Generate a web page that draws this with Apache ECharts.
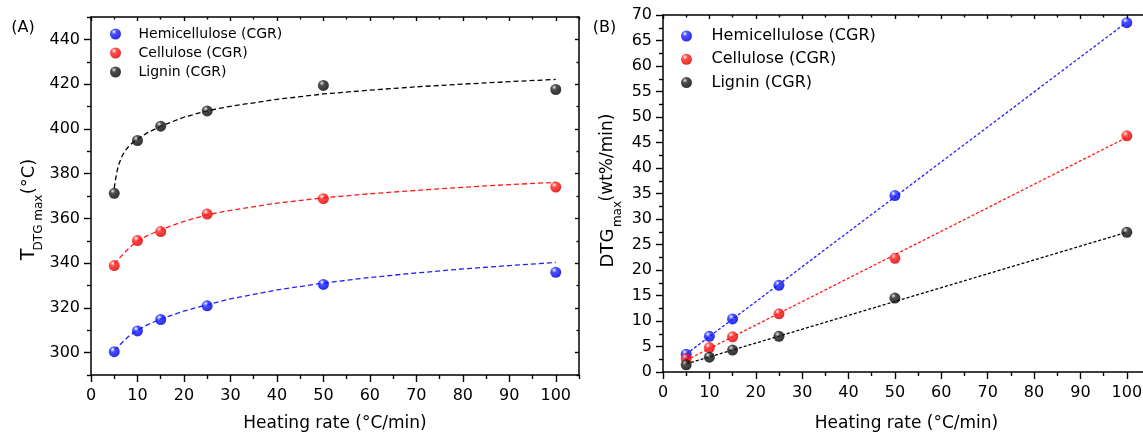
<!DOCTYPE html>
<html>
<head>
<meta charset="utf-8">
<title>Peak temperature and DTG max vs heating rate</title>
<script src="https://cdn.jsdelivr.net/npm/echarts@6/dist/echarts.min.js"></script>
<style>
  html, body { margin: 0; padding: 0; background: #fff; }
  #chart { width: 1143px; height: 436px; }
</style>
</head>
<body>
<div id="chart"></div>
<script>
// Heating rates (°C/min)
const rates = [5, 10, 15, 25, 50, 100];
const seriesNames = ['Hemicellulose (CGR)', 'Cellulose (CGR)', 'Lignin (CGR)'];

// (A) Temperature of maximum DTG (°C)
const tHemi = [300.4, 309.7, 314.8, 320.9, 330.5, 335.9];
const tCell = [338.9, 350.1, 354.1, 361.9, 368.8, 374.0];
const tLig  = [371.2, 394.8, 401.2, 408.0, 419.4, 417.6];

// (A) fitted trend curves, sampled along the heating-rate axis
const fitRatesA = [5, 5.25, 5.5, 5.75, 6, 6.5, 7, 7.5, 8, 9, 10, 12, 15, 20, 25, 30, 40, 50, 60, 70, 80, 90, 100];
const tHemiFit = [301.0, 301.5, 302.0, 302.5, 303.0, 304.1, 305.1, 306.1, 307.1, 308.7, 310.0, 312.3, 315.0,
                  318.6, 321.4, 324.0, 328.0, 331.1, 333.6, 335.6, 337.4, 338.9, 340.3];
const tCellFit = [339.6, 340.2, 340.8, 341.4, 341.9, 343.1, 344.2, 345.3, 346.3, 348.2, 349.8, 352.2, 354.9,
                  358.7, 361.6, 363.6, 366.8, 369.2, 371.0, 372.5, 373.9, 375.1, 376.1];
const tLigFit  = [373.5, 377.0, 380.0, 382.3, 384.2, 387.0, 389.0, 390.6, 391.9, 393.9, 395.4, 398.1, 401.2,
                  405.2, 408.1, 410.1, 413.2, 415.6, 417.3, 418.8, 420.0, 421.1, 422.1];

// (B) Maximum DTG (wt%/min)
const dHemi = [3.5, 7.0, 10.4, 17.0, 34.6, 68.5];
const dCell = [2.6, 4.8, 6.9, 11.4, 22.3, 46.3];
const dLig  = [1.4, 2.9, 4.3, 7.0, 14.5, 27.4];

// (B) linear fits, end points
const fitRatesB = [5, 100];
const dHemiFit = [3.5, 68.6];
const dCellFit = [2.3, 46.0];
const dLigFit  = [1.6, 27.4];

// Tick values
const xTicks  = [0, 10, 20, 30, 40, 50, 60, 70, 80, 90, 100];
const xMinor  = [5, 15, 25, 35, 45, 55, 65, 75, 85, 95, 105];
const yTicksA = [300, 320, 340, 360, 380, 400, 420, 440];
const yMinorA = [290, 310, 330, 350, 370, 390, 410, 430, 450];
const yTicksB = [0, 5, 10, 15, 20, 25, 30, 35, 40, 45, 50, 55, 60, 65, 70];
const yMinorB = [2.5, 7.5, 12.5, 17.5, 22.5, 27.5, 32.5, 37.5, 42.5, 47.5, 52.5, 57.5, 62.5, 67.5];

const FONT = 'DejaVu Sans';
const INK = '#000';

const zip = (xs, ys) => xs.map((x, i) => [x, ys[i]]);

// Glossy sphere fill for the markers
function sphere(hi, mid, base, edge) {
  return {
    type: 'radial', x: 0.36, y: 0.3, r: 0.78,
    colorStops: [
      { offset: 0, color: '#ffffff' },
      { offset: 0.1, color: hi },
      { offset: 0.3, color: mid },
      { offset: 0.75, color: base },
      { offset: 1, color: edge }
    ]
  };
}
const fills = [
  sphere('#a8b0ff', '#1a28ff', '#0000ee', '#0000a8'),
  sphere('#ffb0b0', '#ff2020', '#ee0000', '#a80000'),
  sphere('#9a9a9a', '#202020', '#080808', '#000000')
];
const lineColors = ['#2020ff', '#ff1a1a', '#000000'];

// One value axis; labels and ticks come from explicit value lists
function axis(gridIndex, position, min, max, o) {
  const a = {
    type: 'value', gridIndex, position, min, max,
    splitLine: { show: false },
    axisLine: { show: o.line, onZero: false, lineStyle: { color: INK, width: 1.5 } },
    axisTick: {
      show: true, inside: o.inside, length: o.len, customValues: o.ticks,
      lineStyle: { color: INK, width: 1.4 }
    },
    axisLabel: o.labels ? {
      show: true, customValues: o.labels, color: INK, fontFamily: FONT,
      fontSize: 16, margin: o.margin
    } : { show: false }
  };
  if (o.name) {
    a.name = o.name;
    a.nameLocation = 'middle';
    a.nameGap = o.nameGap;
    a.nameTextStyle = { color: INK, fontFamily: FONT, fontSize: 17 };
  }
  return a;
}

const xAxes = [
  // panel A, main grid
  axis(0, 'bottom', 0, 105, { line: true, inside: false, len: 7, ticks: xTicks, labels: xTicks, margin: 13,
    name: 'Heating rate (°C/min)', nameGap: 40 }),
  axis(0, 'top', 0, 105, { line: true, inside: true, len: 4, ticks: xTicks }),
  // panel A, minor ticks
  axis(1, 'bottom', 0, 105, { line: false, inside: false, len: 4, ticks: xMinor }),
  axis(1, 'top', 0, 105, { line: false, inside: true, len: 2.5, ticks: xMinor }),
  // panel B, main grid
  axis(2, 'bottom', 0, 105, { line: true, inside: false, len: 7, ticks: xTicks, labels: xTicks, margin: 13,
    name: 'Heating rate (°C/min)', nameGap: 43 }),
  axis(2, 'top', 0, 105, { line: true, inside: true, len: 4, ticks: xTicks }),
  // panel B, minor ticks
  axis(3, 'bottom', 0, 105, { line: false, inside: false, len: 4, ticks: xMinor }),
  axis(3, 'top', 0, 105, { line: false, inside: true, len: 2.5, ticks: xMinor })
];

const yAxes = [
  axis(0, 'left', 290, 450, { line: true, inside: false, len: 7, ticks: yTicksA, labels: yTicksA, margin: 11 }),
  axis(0, 'right', 290, 450, { line: true, inside: true, len: 4, ticks: yTicksA }),
  axis(1, 'left', 290, 450, { line: false, inside: false, len: 4, ticks: yMinorA }),
  axis(1, 'right', 290, 450, { line: false, inside: true, len: 2.5, ticks: yMinorA }),
  axis(2, 'left', 0, 70, { line: true, inside: false, len: 7, ticks: yTicksB, labels: yTicksB, margin: 11 }),
  axis(2, 'right', 0, 70, { line: true, inside: true, len: 4, ticks: yTicksB }),
  axis(3, 'left', 0, 70, { line: false, inside: false, len: 4, ticks: yMinorB }),
  axis(3, 'right', 0, 70, { line: false, inside: true, len: 2.5, ticks: yMinorB })
];

function points(name, i, axisIndex, xs, ys) {
  return {
    name, type: 'scatter', xAxisIndex: axisIndex, yAxisIndex: axisIndex,
    symbol: 'circle', symbolSize: 11, z: 5,
    itemStyle: { color: fills[i] },
    data: zip(xs, ys)
  };
}
function fit(name, i, axisIndex, xs, ys, dash) {
  return {
    name, type: 'line', xAxisIndex: axisIndex, yAxisIndex: axisIndex,
    showSymbol: false, symbol: 'none', z: 3, smooth: false,
    lineStyle: { color: lineColors[i], width: 1.3, type: dash },
    data: zip(xs, ys)
  };
}

const series = [
  fit('Hemicellulose fit A', 0, 0, fitRatesA, tHemiFit, [5, 3]),
  fit('Cellulose fit A', 1, 0, fitRatesA, tCellFit, [5, 3]),
  fit('Lignin fit A', 2, 0, fitRatesA, tLigFit, [5, 3]),
  points(seriesNames[0], 0, 0, rates, tHemi),
  points(seriesNames[1], 1, 0, rates, tCell),
  points(seriesNames[2], 2, 0, rates, tLig),
  fit('Hemicellulose fit B', 0, 4, fitRatesB, dHemiFit, [3, 2]),
  fit('Cellulose fit B', 1, 4, fitRatesB, dCellFit, [3, 2]),
  fit('Lignin fit B', 2, 4, fitRatesB, dLigFit, [3, 2]),
  points(seriesNames[0], 0, 4, rates, dHemi),
  points(seriesNames[1], 1, 4, rates, dCell),
  points(seriesNames[2], 2, 4, rates, dLig)
];

function rotText(text, x, y, size) {
  return {
    type: 'text', x, y, rotation: Math.PI / 2, silent: true,
    style: { text, fontFamily: FONT, fontSize: size, fill: INK, align: 'center', verticalAlign: 'middle' }
  };
}
function plainText(text, x, y, size) {
  return {
    type: 'text', x, y, silent: true,
    style: { text, fontFamily: FONT, fontSize: size, fill: INK, align: 'center', verticalAlign: 'middle' }
  };
}

const gridBox = (left, top, width, height) =>
  ({ left, top, width, height, containLabel: false, outerBoundsMode: 'none' });

const option = {
  animation: false,
  backgroundColor: '#ffffff',
  textStyle: { fontFamily: FONT },
  grid: [
    gridBox(91, 17, 488, 358),
    gridBox(91, 17, 488, 358),
    gridBox(663, 15, 487, 357),
    gridBox(663, 15, 487, 357)
  ],
  xAxis: xAxes,
  yAxis: yAxes,
  legend: [
    {
      orient: 'vertical', left: 105, top: 22, padding: 5,
      itemWidth: 36, itemHeight: 11, itemGap: 5, icon: 'circle',
      selectedMode: false, data: seriesNames,
      textStyle: { color: INK, fontFamily: FONT, fontSize: 14, lineHeight: 14 }
    },
    {
      orient: 'vertical', left: 676, top: 23, padding: 5,
      itemWidth: 40, itemHeight: 11, itemGap: 7.3, icon: 'circle',
      selectedMode: false, data: seriesNames,
      textStyle: { color: INK, fontFamily: FONT, fontSize: 16, lineHeight: 16 }
    }
  ],
  graphic: [
    plainText('(A)', 23, 27.5, 16),
    plainText('(B)', 604.5, 27.5, 16),
    // T_DTG max (°C)
    rotText('T', 29, 254.5, 19),
    rotText('DTG max', 39, 222.5, 12),
    rotText('(°C)', 29, 176.5, 18),
    // DTG_max (wt%/min)
    rotText('DTG', 608, 248, 18),
    rotText('max', 618, 214, 12),
    rotText('(wt%/min)', 608, 157.5, 17)
  ],
  series
};

const chart = echarts.init(document.getElementById('chart'), null, { renderer: 'canvas' });
chart.setOption(option);
</script>
</body>
</html>
